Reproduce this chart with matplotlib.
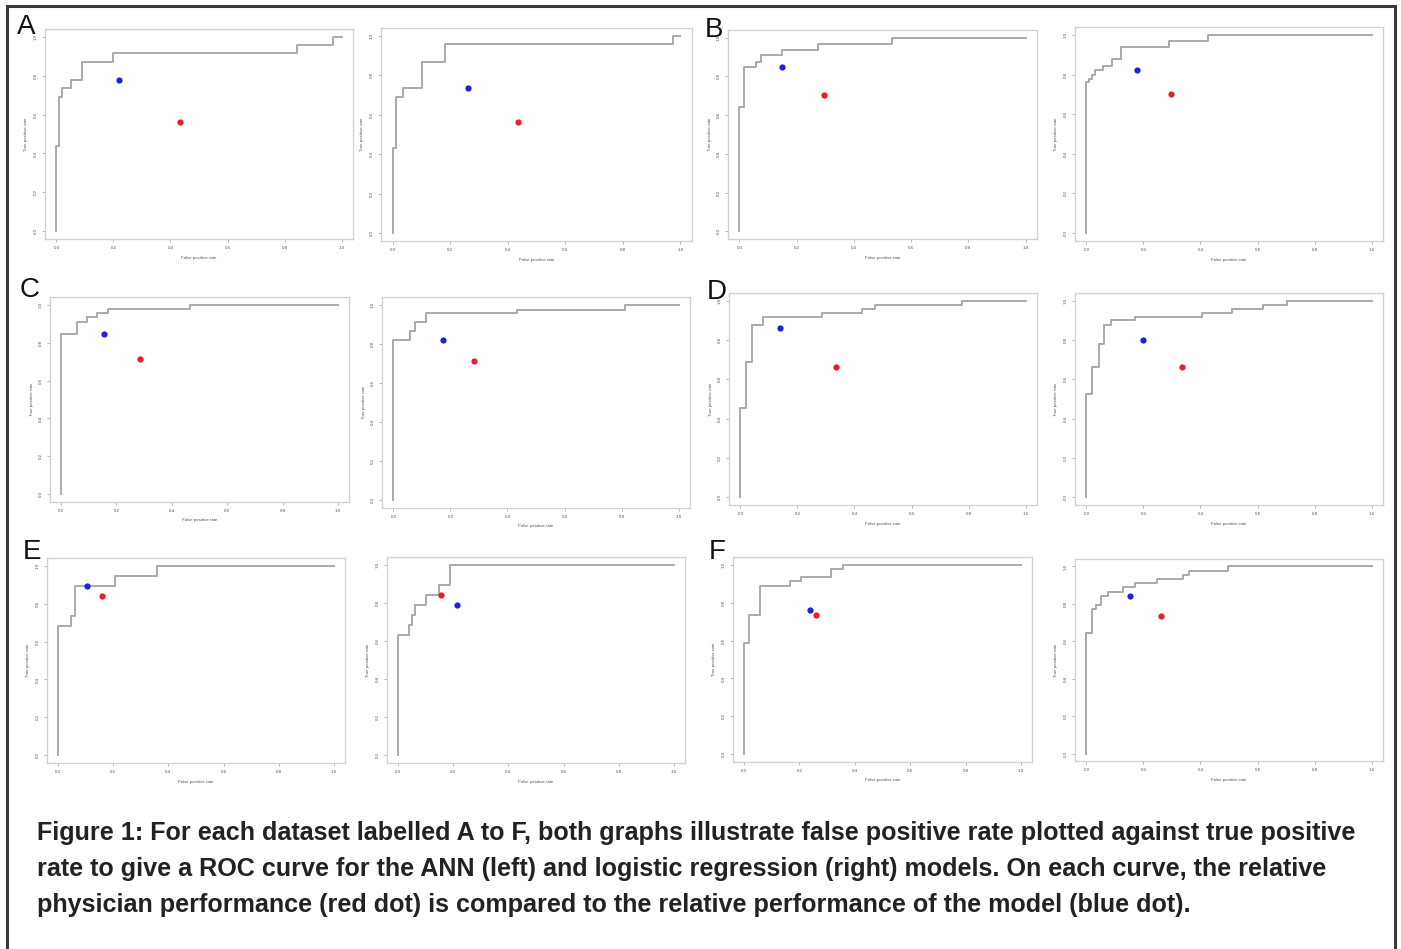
import matplotlib
matplotlib.use("Agg")
from matplotlib import pyplot as plt
from matplotlib.patches import Rectangle

plt.rcParams['font.family'] = ['Liberation Sans', 'DejaVu Sans']

# ROC curves, step corners (fpr, tpr); ANN = left graph, LR = right graph
fpr_A_ann = [0, 0, 0.01, 0.02, 0.05, 0.09, 0.20, 0.845, 0.97, 1.0]
tpr_A_ann = [0, 0.436, 0.692, 0.735, 0.778, 0.872, 0.915, 0.957, 1.0, 1.0]
fpr_A_lr = [0, 0, 0.012, 0.036, 0.104, 0.181, 0.973, 1.0]
tpr_A_lr = [0, 0.434, 0.692, 0.734, 0.869, 0.958, 1.0, 1.0]

fpr_B_ann = [0, 0, 0.015, 0.059, 0.074, 0.150, 0.276, 0.532, 1.0]
tpr_B_ann = [0, 0.641, 0.851, 0.877, 0.911, 0.937, 0.966, 1.0, 1.0]
fpr_B_lr = [0, 0, 0.009, 0.018, 0.029, 0.059, 0.088, 0.121, 0.288, 0.426, 1.0]
tpr_B_lr = [0, 0.761, 0.778, 0.800, 0.821, 0.843, 0.880, 0.939, 0.970, 1.0, 1.0]

fpr_C_ann = [0, 0, 0.059, 0.095, 0.131, 0.168, 0.464, 1.0]
tpr_C_ann = [0, 0.847, 0.908, 0.935, 0.958, 0.979, 1.0, 1.0]
fpr_C_lr = [0, 0, 0.058, 0.076, 0.113, 0.433, 0.811, 1.0]
tpr_C_lr = [0, 0.821, 0.864, 0.912, 0.957, 0.974, 1.0, 1.0]

fpr_D_ann = [0, 0, 0.020, 0.041, 0.080, 0.285, 0.428, 0.472, 0.777, 1.0]
tpr_D_ann = [0, 0.453, 0.687, 0.877, 0.920, 0.940, 0.957, 0.979, 1.0, 1.0]
fpr_D_lr = [0, 0, 0.021, 0.043, 0.062, 0.086, 0.172, 0.404, 0.512, 0.619, 0.703, 1.0]
tpr_D_lr = [0, 0.526, 0.663, 0.781, 0.877, 0.901, 0.920, 0.940, 0.961, 0.978, 1.0, 1.0]

fpr_E_ann = [0, 0, 0.048, 0.063, 0.208, 0.358, 1.0]
tpr_E_ann = [0, 0.681, 0.733, 0.891, 0.944, 1.0, 1.0]
fpr_E_lr = [0, 0, 0.039, 0.051, 0.063, 0.102, 0.150, 0.190, 1.0]
tpr_E_lr = [0, 0.630, 0.683, 0.737, 0.788, 0.842, 0.893, 1.0, 1.0]

fpr_F_ann = [0, 0, 0.018, 0.057, 0.166, 0.204, 0.314, 0.357, 1.0]
tpr_F_ann = [0, 0.588, 0.735, 0.889, 0.912, 0.933, 0.977, 1.0, 1.0]
fpr_F_lr = [0, 0, 0.018, 0.032, 0.050, 0.076, 0.129, 0.170, 0.246, 0.338, 0.358, 0.495, 1.0]
tpr_F_lr = [0, 0.647, 0.772, 0.794, 0.844, 0.866, 0.889, 0.914, 0.934, 0.955, 0.977, 1.0, 1.0]

# model (blue) and physician (red) points, panel order A-ann, A-lr, B-ann, ...
model_fpr = [0.218, 0.261, 0.148, 0.176, 0.154, 0.175, 0.138, 0.197, 0.105, 0.212, 0.238, 0.152]
model_tpr = [0.778, 0.737, 0.850, 0.821, 0.847, 0.821, 0.860, 0.802, 0.891, 0.788, 0.759, 0.844]
phys_fpr = [0.435, 0.435, 0.296, 0.295, 0.285, 0.283, 0.335, 0.334, 0.159, 0.157, 0.261, 0.260]
phys_tpr = [0.562, 0.563, 0.703, 0.702, 0.714, 0.714, 0.665, 0.665, 0.839, 0.842, 0.736, 0.735]

curves = [(fpr_A_ann, tpr_A_ann), (fpr_A_lr, tpr_A_lr), (fpr_B_ann, tpr_B_ann), (fpr_B_lr, tpr_B_lr),
          (fpr_C_ann, tpr_C_ann), (fpr_C_lr, tpr_C_lr), (fpr_D_ann, tpr_D_ann), (fpr_D_lr, tpr_D_lr),
          (fpr_E_ann, tpr_E_ann), (fpr_E_lr, tpr_E_lr), (fpr_F_ann, tpr_F_ann), (fpr_F_lr, tpr_F_lr)]

panel_letters = ['A', 'B', 'C', 'D', 'E', 'F']

caption = ["Figure 1: For each dataset labelled A to F, both graphs illustrate false positive rate plotted against true positive",
           "rate to give a ROC curve for the ANN (left) and logistic regression (right) models. On each curve, the relative",
           "physician performance (red dot) is compared to the relative performance of the model (blue dot)."]

W, H = 1401, 949
fig = plt.figure(figsize=(W / 100, H / 100), dpi=100)
fig.patch.set_facecolor('white')

# axes boxes in pixels: left, top, right, bottom
boxes = [(45, 29, 353, 239), (381, 28, 692, 241), (728, 30, 1037, 239), (1075, 27, 1383, 241),
         (50, 297, 349, 502), (382, 297, 690, 508), (729, 293, 1037, 505), (1075, 293, 1383, 505),
         (47, 558, 345, 763), (387, 557, 685, 763), (733, 557, 1032, 762), (1075, 559, 1383, 761)]

ticks = [0.0, 0.2, 0.4, 0.6, 0.8, 1.0]
for i, (l, t, r, b) in enumerate(boxes):
    ax = fig.add_axes([l / W, 1 - b / H, (r - l) / W, (b - t) / H])
    fx, ty = curves[i]
    ax.plot(fx, ty, drawstyle='steps-post', color='#aaaaaa', lw=1.4)
    ax.plot(model_fpr[i], model_tpr[i], 'o', color='#1f1fe6', ms=4.5, mec='none')
    ax.plot(phys_fpr[i], phys_tpr[i], 'o', color='#e61f2a', ms=4.5, mec='none')
    ax.set_xlim(-0.04, 1.04)
    ax.set_ylim(-0.04, 1.04)
    ax.set_xticks(ticks)
    ax.set_yticks(ticks)
    ax.set_xticklabels(['%.1f' % v for v in ticks])
    ax.set_yticklabels(['%.1f' % v for v in ticks], rotation=90, va='center')
    ax.tick_params(labelsize=3.2, length=2, width=0.5, pad=3, colors='#9a9a9a', labelcolor='#555555')
    for s in ax.spines.values():
        s.set_color('#d2d2d2')
        s.set_linewidth(1.0)
    ax.set_xlabel('False positive rate', fontsize=3.2, color='#555555', labelpad=4)
    ax.set_ylabel('True positive rate', fontsize=3.2, color='#555555', labelpad=4)

# panel letters (left, baseline) in pixels
letter_pos = [(17, 34), (705, 37), (20, 297), (707, 299), (23, 559), (709, 559)]
for letter, (x, y) in zip(panel_letters, letter_pos):
    fig.text(x / W, 1 - y / H, letter, fontsize=20, color='#111111', va='baseline', ha='left')

for k, line in enumerate(caption):
    fig.text(37 / W, 1 - (840 + 36 * k) / H, line, fontsize=18.1, fontweight='bold',
             color='#222222', va='baseline', ha='left')

# outer frame
fig.patches.append(Rectangle((7 / W, -0.05), (1395 - 7) / W, 1.05 - 6 / H,
                             transform=fig.transFigure, fill=False, lw=2.2, ec='#3a3a3a'))

fig.savefig('out.png', dpi=100, facecolor='white')
